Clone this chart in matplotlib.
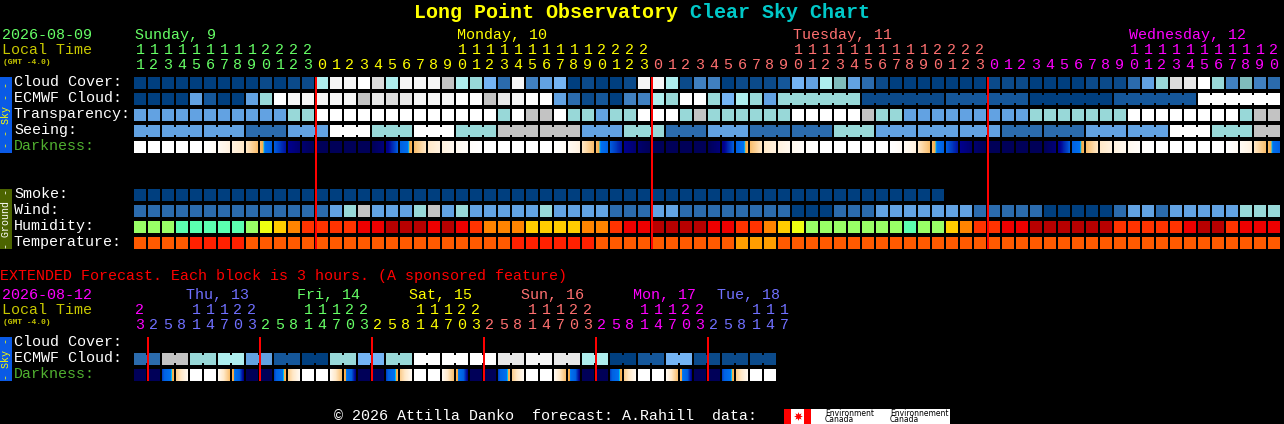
import matplotlib
matplotlib.use('Agg')
import matplotlib.pyplot as plt
from matplotlib.colors import LinearSegmentedColormap

# cloud style palette, used by cloud, ecmwf, transparency, seeing, smoke, wind
sky_colors = ['#003f7f', '#0b4a8a', '#15579a', '#2b6bad', '#4080c0', '#62a2e2', '#74b4f4', '#98d8d8',
              '#aeeeee', '#7fbcbc', '#c3c3c3', '#dcdcdc', '#e8e8e8', '#f6f6f6', '#ffffff']
humidity_colors = ['#5bffb0', '#99ff66', '#eeff11', '#ffcc00', '#ff8400', '#ff3300', '#ee0000', '#b80000']
temp_colors = ['#ff5a00', '#ff2000', '#ff9e00']

cloud = [0, 0, 0, 0, 0, 0, 0, 0, 0, 1, 0, 1, 1, 8, 13, 13, 14, 11, 8, 13, 13, 13, 10, 8, 7, 6, 3, 13, 4, 5, 6, 0,
         1, 0, 0, 1, 13, 13, 8, 1, 4, 4, 0, 1, 1, 1, 2, 6, 5, 8, 9, 5, 3, 1, 0, 0, 0, 0, 0, 0, 0, 1, 1, 1, 0, 0,
         0, 0, 1, 1, 1, 3, 5, 7, 11, 12, 14, 7, 4, 9, 4, 3]
ecmwf_hourly = [0, 0, 0, 0, 5, 2, 0, 0, 5, 7, 14, 13, 13, 13, 13, 13, 10, 12, 11, 12, 13, 13, 13, 14, 14, 10, 12,
                13, 14, 14, 5, 3, 1, 2, 0, 4, 4, 8, 7, 14, 14, 7, 6, 8, 7, 5]
ecmwf_3h = [7, 1, 2, 0, 2, 14]
ecmwf_vals = ecmwf_hourly + ecmwf_3h
ecmwf_spans = [1] * len(ecmwf_hourly) + [6] * len(ecmwf_3h)
transparency = [5, 5, 5, 5, 5, 5, 5, 5, 5, 5, 5, 7, 7, 14, 14, 14, 14, 14, 14, 14, 14, 14, 14, 14, 14, 14, 7, 14,
                10, 10, 14, 7, 7, 5, 7, 7, 14, 14, 14, 7, 10, 7, 7, 7, 7, 7, 7, 14, 14, 14, 14, 14, 10, 7, 7, 5,
                5, 5, 5, 5, 5, 5, 5, 5, 7, 7, 7, 7, 7, 7, 7, 14, 14, 14, 14, 14, 14, 14, 14, 7, 10, 10]
seeing_vals = [5, 5, 5, 3, 5, 14, 7, 14, 7, 10, 10, 5, 7, 3, 5, 3, 3, 7, 5, 5, 5, 3, 3, 5, 5, 14, 7, 10]
seeing_spans = [2] + [3] * 26 + [2]
smoke = [0] * 58
wind = [3, 3, 3, 3, 3, 3, 3, 3, 3, 3, 3, 3, 3, 3, 5, 7, 10, 5, 5, 5, 7, 10, 5, 7, 5, 5, 5, 5, 5, 7, 5, 5, 5, 5, 3,
        3, 3, 5, 5, 3, 3, 3, 3, 3, 3, 3, 3, 0, 0, 0, 3, 3, 3, 5, 5, 5, 5, 5, 5, 5, 3, 3, 3, 3, 3, 0, 0, 0, 0, 0,
        3, 5, 5, 3, 5, 5, 5, 5, 5, 7, 7, 7]
humidity = [1, 1, 1, 0, 0, 0, 0, 0, 1, 2, 3, 4, 5, 5, 5, 5, 6, 6, 7, 7, 7, 6, 7, 6, 5, 4, 4, 4, 3, 3, 3, 3, 4, 4,
            5, 6, 6, 7, 7, 7, 7, 6, 6, 5, 5, 4, 3, 2, 1, 1, 1, 1, 1, 1, 1, 0, 1, 1, 3, 4, 5, 5, 6, 6, 7, 7, 7, 7,
            7, 7, 5, 5, 5, 5, 5, 6, 7, 7, 5, 6, 6, 6]
temperature = [0, 0, 0, 0, 1, 1, 1, 1, 0, 0, 0, 0, 0, 0, 0, 0, 0, 0, 0, 0, 0, 0, 0, 0, 0, 0, 0, 1, 1, 1, 1, 1, 1,
               0, 0, 0, 0, 0, 0, 0, 0, 0, 0, 2, 2, 2, 0, 0, 0, 0, 0, 0, 0, 0, 0, 0, 0, 0, 0, 0, 0, 0, 0, 0, 0, 0,
               0, 0, 0, 0, 0, 0, 0, 0, 0, 0, 0, 0, 0, 0, 0, 0]

# darkness level at start and end of each hour block: 0 white, 2 orange, 3 blue, 4 navy
dark_from = [0, 0, 0, 0, 0, 0, .2, .6, 1, 1.9, 3, 3.5, 3.8, 4, 4, 4, 4, 4, 3.6, 3, 1.9, 1, .6, .3, .1, 0, 0, 0, 0, 0,
             0, .2, 1, 1.9, 3, 3.5, 3.8, 4, 4, 4, 4, 4, 3.6, 3, 1.9, 1, .6, .3, .1, 0, 0, 0, 0, 0, 0, .2, 1, 1.9,
             3, 3.5, 3.8, 4, 4, 4, 4, 4, 3.6, 3, 1.9, 1, .6, .3, .1, 0, 0, 0, 0, 0, 0, .2, 1, 1.9]
dark_to = [0, 0, 0, 0, 0, .2, .6, 1, 1.9, 3, 3.4, 3.8, 4, 4, 4, 4, 4, 3.7, 3, 2, 1, .6, .3, .1, 0, 0, 0, 0, 0, 0,
           .2, .6, 1.9, 3, 3.4, 3.8, 4, 4, 4, 4, 4, 3.7, 3, 2, 1, .6, .3, .1, 0, 0, 0, 0, 0, 0, .2, .6, 1.9, 3,
           3.4, 3.8, 4, 4, 4, 4, 4, 3.7, 3, 2, 1, .6, .3, .1, 0, 0, 0, 0, 0, 0, .2, .6, 1.9, 3]

# extended part, 3 hour steps
ext_hours = [23, 2, 5, 8, 11, 14, 17, 20, 23, 2, 5, 8, 11, 14, 17, 20, 23, 2, 5, 8, 11, 14, 17, 20, 23, 2, 5, 8, 11,
             14, 17, 20, 23, 2, 5, 8, 11, 14, 17, 20, 23, 2, 5, 8, 11, 14, 17]
ext_ecmwf = [3, 10, 7, 8, 5, 2, 0, 7, 6, 7, 14, 14, 14, 12, 13, 12, 8, 0, 2, 6, 1, 1, 1]
ext_spans = [2] * 23
ext_dark_from = [4, 4, 3.2, 1.6, 0, 0, .2, 2, 4, 4, 3.2, 1.6, 0, 0, .2, 2, 4, 4, 3.2, 1.6, 0, 0, .2, 2, 4, 4, 3.2,
                 1.6, 0, 0, .2, 2, 4, 4, 3.2, 1.6, 0, 0, .2, 2, 4, 4, 3.2, 1.6, 0, 0]
ext_dark_to = [4, 4, 2, .2, 0, 0, 1.9, 3.6, 4, 4, 2, .2, 0, 0, 1.9, 3.6, 4, 4, 2, .2, 0, 0, 1.9, 3.6, 4, 4, 2, .2, 0,
               0, 1.9, 3.6, 4, 4, 2, .2, 0, 0, 1.9, 3.6, 4, 4, 2, .2, 0, 0]

dark_cmap = LinearSegmentedColormap.from_list('dark', [
    (0, '#ffffff'), (1 / 4, '#ffe8c8'), (2 / 4, '#f8b860'), (2.2 / 4, '#f8a840'), (2.25 / 4, '#00c8f0'),
    (2.35 / 4, '#0070f0'), (3 / 4, '#0060e0'), (3.5 / 4, '#000090'), (1, '#000058')])

main_hours = [(11 + k) % 24 for k in range(82)]
GREEN, YELLOW, SALMON, MAGENTA, BLUE = '#66ff66', '#ffff00', '#ff7070', '#ff00ff', '#7070ff'
LABEL_OLIVE = '#c8c800'

plt.rcParams['font.family'] = ['Liberation Mono', 'DejaVu Sans Mono']
fig = plt.figure(figsize=(12.84, 4.24), dpi=100, facecolor='black')
ax = fig.add_axes([0, 0, 1, 1])
ax.set_facecolor('black')
ax.set_xlim(0, 1284)
ax.set_ylim(424, 0)
ax.axis('off')

X0, STEP, W = 134, 14, 12


def px(size):
    return size * 0.72


def text(x, y, s, color='white', size=15, **kw):
    kw.setdefault('ha', 'left')
    ax.text(x, y, s, color=color, fontsize=px(size), va='center', **kw)


def row(top, vals, palette, spans=None):
    spans = spans or [1] * len(vals)
    k = 0
    for v, n in zip(vals, spans):
        c = palette[v]
        ax.bar([X0 + STEP * (k + i) for i in range(n)], W, width=W, bottom=top, align='edge', color=c, linewidth=0)
        for i in range(n - 1):
            ax.bar(X0 + STEP * (k + i) + W, 8, width=2, bottom=top + 2, align='edge', color=c, linewidth=0)
        k += n


def dark_row(top, d_from, d_to):
    for k, (a, b) in enumerate(zip(d_from, d_to)):
        for p in range(W):
            lev = a + (b - a) * (p + 0.5) / W
            ax.bar(X0 + STEP * k + p, W, width=1, bottom=top, align='edge', color=dark_cmap(lev / 4), linewidth=0)


def hour_labels(hours, colors, y_tens, y_units):
    for k, (h, c) in enumerate(zip(hours, colors)):
        x = X0 + STEP * k + 6
        if h >= 10:
            text(x, y_tens, str(h // 10), c, ha='center')
        text(x, y_units, str(h % 10), c, ha='center')


def side_bar(top, bottom, color, s, tcolor):
    ax.bar(0, bottom - top, width=12, bottom=top, align='edge', color=color, linewidth=0)
    ax.text(6, (top + bottom) / 2, s, color=tcolor, fontsize=px(10), rotation=90, ha='center', va='center')


def red_lines(xs, top, height):
    for x in xs:
        ax.bar(x - 1, height, width=2, bottom=top, align='edge', color='#ff0000', linewidth=0, antialiased=False)


# title
ax.text(414, 12, 'Long Point Observatory', color='#ffff00', fontsize=px(20), fontweight='bold', va='center')
ax.text(690, 12, 'Clear Sky Chart', color='#00c8c8', fontsize=px(20), fontweight='bold', va='center')

# main header
text(2, 35, '2026-08-09', GREEN)
text(2, 50, 'Local Time', LABEL_OLIVE)
text(3, 62, '(GMT -4.0)', LABEL_OLIVE, size=8, fontweight='bold')
text(135, 35, 'Sunday, 9', GREEN)
text(457, 35, 'Monday, 10', YELLOW)
text(793, 35, 'Tuesday, 11', SALMON)
text(1129, 35, 'Wednesday, 12', MAGENTA)
main_colors = [GREEN] * 13 + [YELLOW] * 24 + [SALMON] * 24 + [MAGENTA] * 21
hour_labels(main_hours, main_colors, 50, 65)

# main rows
row(77, cloud, sky_colors)
row(93, ecmwf_vals, sky_colors, ecmwf_spans)
row(109, transparency, sky_colors)
row(125, seeing_vals, sky_colors, seeing_spans)
dark_row(141, dark_from, dark_to)
row(189, smoke, sky_colors)
row(205, wind, sky_colors)
row(221, humidity, humidity_colors)
row(237, temperature, temp_colors)

for y, s in zip([82, 98, 114, 130], ['Cloud Cover:', 'ECMWF Cloud:', 'Transparency:', 'Seeing:']):
    text(14, y, s)
text(14, 146, 'Darkness:', '#50b030')
for y, s in zip([194, 210, 226, 242], ['Smoke:', 'Wind:', 'Humidity:', 'Temperature:']):
    text(14, y, s)

side_bar(77, 153, '#0a5ae6', '- - Sky - -', '#ffff00')
side_bar(189, 249, '#4c6400', '- Ground -', 'white')

red_lines([316, 652, 988], 77, 172)

# extended block
text(0, 276, 'EXTENDED Forecast. Each block is 3 hours. (A sponsored feature)', '#ff0000')
text(2, 295, '2026-08-12', MAGENTA)
text(2, 310, 'Local Time', LABEL_OLIVE)
text(3, 322, '(GMT -4.0)', LABEL_OLIVE, size=8, fontweight='bold')
ext_days = ['Thu, 13', 'Fri, 14', 'Sat, 15', 'Sun, 16', 'Mon, 17', 'Tue, 18']
ext_day_x = [186, 297, 409, 521, 633, 717]
ext_day_c = [BLUE, GREEN, YELLOW, SALMON, MAGENTA, BLUE]
for s, x, c in zip(ext_days, ext_day_x, ext_day_c):
    text(x, 295, s, c)
ext_colors = [MAGENTA] + [BLUE] * 8 + [GREEN] * 8 + [YELLOW] * 8 + [SALMON] * 8 + [MAGENTA] * 8 + [BLUE] * 6
hour_labels(ext_hours, ext_colors, 310, 325)

row(353, ext_ecmwf, sky_colors, ext_spans)
dark_row(369, ext_dark_from, ext_dark_to)
text(14, 342, 'Cloud Cover:')
text(14, 358, 'ECMWF Cloud:')
text(14, 374, 'Darkness:', '#50b030')
side_bar(337, 381, '#0a5ae6', '- Sky -', '#ffff00')
red_lines([148, 260, 372, 484, 596, 708], 337, 44)

# footer and the data provider logo
text(334, 416, '\u00a9 2026 Attilla Danko  forecast: A.Rahill  data:')
ax.bar(784, 15, width=166, bottom=409, align='edge', color='white', linewidth=0)
ax.bar(784, 15, width=7, bottom=409, align='edge', color='#ff0000', linewidth=0)
ax.bar(804, 15, width=7, bottom=409, align='edge', color='#ff0000', linewidth=0)
ax.scatter([797.5], [416], s=40, marker=(8, 1, 0), color='#ff0000', linewidth=0)
for x, s in zip([825, 890], ['Environment', 'Environnement']):
    text(x, 413, s, 'black', size=7.7, family='DejaVu Sans')
    text(x, 420, 'Canada', 'black', size=7.7, family='DejaVu Sans')

ax.set_xlim(0, 1284)
ax.set_ylim(424, 0)
fig.savefig('out.png', dpi=100, facecolor='black')
